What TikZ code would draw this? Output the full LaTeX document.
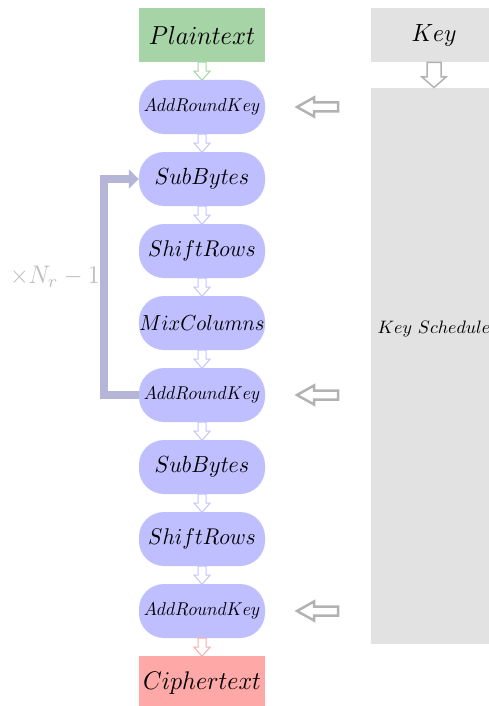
\documentclass[tikz,border=0pt]{standalone}
\usetikzlibrary{arrows.meta,calc}
\definecolor{plainfill}{RGB}{167,212,167}
\definecolor{plainline}{RGB}{160,215,160}
\definecolor{stagefill}{RGB}{191,191,255}
\definecolor{stageline}{RGB}{196,196,255}
\definecolor{cipherfill}{RGB}{255,168,168}
\definecolor{cipherline}{RGB}{255,168,168}
\definecolor{keyfill}{RGB}{226,226,226}
\definecolor{keyarrow}{RGB}{178,178,178}
\definecolor{loopcol}{RGB}{181,181,216}
\definecolor{labelgray}{RGB}{190,190,190}
% math label set at 10pt and scaled to the wanted size (slightly taller than wide)
\newcommand\mlabel[2]{\scalebox{#1}[\fpeval{#1*1.06}]{$#2$}}
\tikzset{
  box/.style={minimum width=126pt, minimum height=54pt, inner sep=0pt},
  stage/.style={box, fill=stagefill, rounded corners=25pt},
  pics/flow/.style={code={
    \draw[line width=1pt,#1] (-4,0)--(4,0)--(4,9)--(8,9)--(0,18)--(-8,9)--(-4,9)--cycle;}},
  pics/keyin/.style={code={
    \draw[line width=2.5pt,keyarrow] (20.5,-4.5)--(-3.5,-4.5)--(-3.5,-9.5)--(-20.5,0)
      --(-3.5,9.5)--(-3.5,4.5)--(20.5,4.5)--cycle;}},
  pics/keydown/.style={code={
    \draw[line width=1.5pt,keyarrow] (-7,-12.5)--(7,-12.5)--(7,2)--(12,2)--(0,12.5)
      --(-12,2)--(-7,2)--(-7,-12.5)--cycle;}},
}
\begin{document}
\begin{tikzpicture}[x=1pt,y=-1pt]
\useasboundingbox (0,0) rectangle (489,706);
\clip (0,0) rectangle (489,706);

% main round pipeline
\node[box, fill=plainfill] (pt) at (202,35) {\mlabel{2.45}{Plaintext}};
\node[stage] (ark1) at (202,107) {\mlabel{1.75}{AddRoundKey}};
\node[stage] (sb1) at (202,179) {\mlabel{2.2}{SubBytes}};
\node[stage] (sr1) at (202,251) {\mlabel{2.15}{ShiftRows}};
\node[stage] (mc) at (202,323) {\mlabel{2.05}{MixColumns}};
\node[stage] (ark2) at (202,395) {\mlabel{1.75}{AddRoundKey}};
\node[stage] (sb2) at (202,467) {\mlabel{2.2}{SubBytes}};
\node[stage] (sr2) at (202,539) {\mlabel{2.15}{ShiftRows}};
\node[stage] (ark3) at (202,611) {\mlabel{1.75}{AddRoundKey}};
\node[box, fill=cipherfill] (ct) at (202,683) {\mlabel{2.4}{Ciphertext}};

% key column
\node[box, fill=keyfill] (key) at (434,35) {\mlabel{2.35}{Key}};
\node[fill=keyfill, minimum width=126pt, minimum height=556pt, inner sep=0pt] (ks) at (434,366) {};
\node (kslabel) at (434,329) {\scalebox{1.8}{$Key\ Schedule$}};

% hollow arrows between stages
\pic at (pt.south) {flow=plainline};
\pic at (ark1.south) {flow=stageline};
\pic at (sb1.south) {flow=stageline};
\pic at (sr1.south) {flow=stageline};
\pic at (mc.south) {flow=stageline};
\pic at (ark2.south) {flow=stageline};
\pic at (sb2.south) {flow=stageline};
\pic at (sr2.south) {flow=stageline};
\pic at (ark3.south) {flow=cipherline};

% round keys
\pic at ($(key.south)!0.5!(ks.north)$) {keydown};
\pic at (317.5,107) {keyin};
\pic at (317.5,395) {keyin};
\pic at (317.5,611) {keyin};

% repeated rounds
\draw[loopcol, line width=8pt, -{Triangle[length=10pt,width=19pt]}]
  (ark2.west) -- ++(-35,0) |- (sb1.west);
\node[text=labelgray] (reps) at (55,277) {\mlabel{2.4}{\times N_r - 1}};
\end{tikzpicture}
\end{document}
